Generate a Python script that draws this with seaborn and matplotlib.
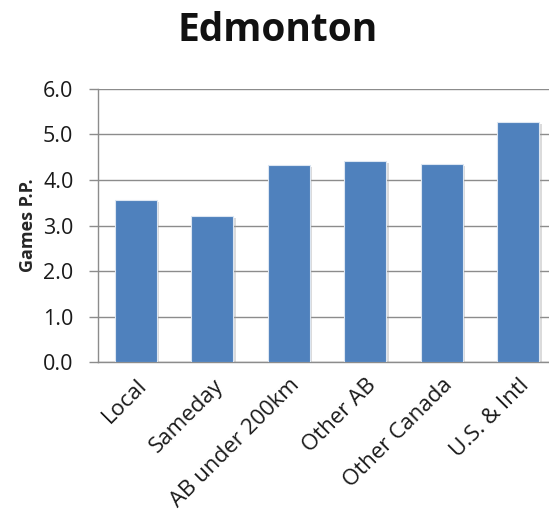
import matplotlib
matplotlib.use("Agg")
import matplotlib.pyplot as plt
import matplotlib.patheffects as pe
import matplotlib.transforms as mtransforms
import numpy as np
import pandas as pd
import seaborn as sns

# values
categories = ["Local", "Sameday", "AB under 200km", "Other AB", "Other Canada", "U.S. & Intl"]
games_pp = [3.57, 3.21, 4.32, 4.41, 4.36, 5.28]
y_ticks = [0.0, 1.0, 2.0, 3.0, 4.0, 5.0, 6.0]

df = pd.DataFrame({"category": categories, "games": games_pp})

sns.set_style("white")
plt.rcParams["font.family"] = ["Open Sans", "DejaVu Sans"]

fig = plt.figure(figsize=(5.49, 5.20), dpi=100)
ax = fig.add_axes([0.178, 0.3033, 0.836, 0.526])

sns.barplot(data=df, x="category", y="games", color="#4F81BD", width=0.55,
            saturation=1, ax=ax, zorder=3)
for bar in ax.patches:
    bar.set_edgecolor("#dce6f2")
    bar.set_linewidth(0.8)
    bar.set_path_effects([pe.SimplePatchShadow(offset=(1.5, -1.5), shadow_rgbFace="#999999",
                                               alpha=0.35), pe.Normal()])

ax.set_ylim(0, 6.0)
ax.set_xlim(-0.5, len(categories) - 0.5)
ax.set_yticks(y_ticks)
ax.set_yticklabels([f"{v:.1f}" for v in y_ticks], fontsize=15.5, color="#1a1a1a")
ax.yaxis.grid(True, color="#8c8c8c", linewidth=1.0, zorder=0)
ax.set_axisbelow(True)

ax.set_xticks(range(len(categories)))
ax.set_xticklabels(categories, rotation=45, ha="right", rotation_mode="anchor",
                   fontsize=16, color="#1a1a1a")
shift = mtransforms.ScaledTranslation(5 / 100, 0, fig.dpi_scale_trans)
for lbl in ax.get_xticklabels():
    lbl.set_transform(lbl.get_transform() + shift)
ax.tick_params(axis="x", which="major", length=0, pad=9)
ax.set_xticks(np.arange(-0.5, len(categories) - 0.5, 1.0), minor=True)
ax.tick_params(axis="x", which="minor", length=6, width=1, color="#8c8c8c", direction="out")
ax.tick_params(axis="y", length=6.5, width=1, color="#8c8c8c", direction="out", left=True, pad=11)

for side in ["top", "right"]:
    ax.spines[side].set_visible(False)
for side in ["left", "bottom"]:
    ax.spines[side].set_color("#8c8c8c")
    ax.spines[side].set_linewidth(1.0)

ax.set_xlabel("")
ax.set_ylabel("Games P.P.", fontsize=13, fontweight="bold", labelpad=4)
fig.text(0.505, 0.942, "Edmonton", ha="center", va="center", fontsize=28, fontweight="bold",
         color="#111111")

fig.savefig("out.png", dpi=100)
